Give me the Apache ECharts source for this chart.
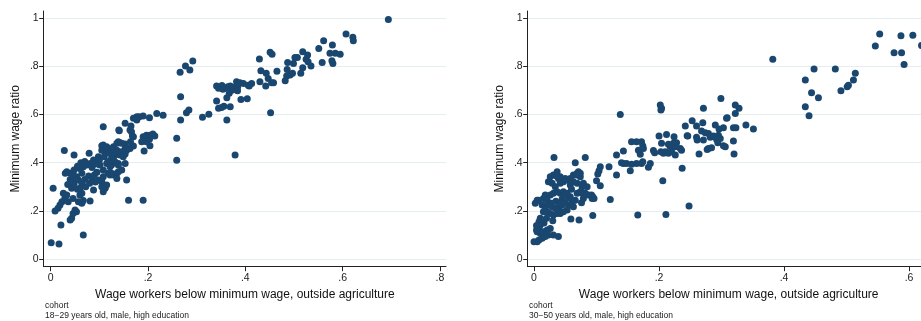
<!DOCTYPE html>
<html>
<head>
<meta charset="utf-8">
<script src="https://cdn.jsdelivr.net/npm/echarts@6/dist/echarts.min.js"></script>
<style>
html,body{margin:0;padding:0;background:#fff;}
#chart{width:921px;height:321px;}
</style>
</head>
<body>
<div id="chart"></div>
<script>
// ---------- data ----------
const yTicks = [0, 0.2, 0.4, 0.6, 0.8, 1];
const yTickLabels = ['0', '.2', '.4', '.6', '.8', '1'];
const leftXTicks = [0, 0.2, 0.4, 0.6, 0.8];
const leftXTickLabels = ['0', '.2', '.4', '.6', '.8'];
const rightXTicks = [0, 0.2, 0.4, 0.6];
const rightXTickLabels = ['0', '.2', '.4', '.6'];

const yTitle = 'Minimum wage ratio';
const xTitle = 'Wage workers below minimum wage, outside agriculture';
const noteHead = 'cohort';
const leftCohort = '18\u221229 years old, male, high education';
const rightCohort = '30\u221250 years old, male, high education';

// 18-29 years old cohort: [below-min-wage share, minimum wage ratio]
const youngCohort = [
[0.694,0.993],[0.607,0.933],[0.621,0.919],[0.622,0.905],[0.561,0.905],[0.579,0.887],[0.551,0.873],[0.518,0.859],
[0.574,0.853],[0.585,0.853],[0.595,0.849],[0.528,0.846],[0.502,0.836],[0.507,0.836],[0.451,0.857],[0.455,0.849],
[0.429,0.829],[0.525,0.828],[0.529,0.818],[0.487,0.815],[0.499,0.811],[0.558,0.815],[0.578,0.822],[0.580,0.811],
[0.535,0.800],[0.518,0.793],[0.486,0.786],[0.432,0.781],[0.443,0.770],[0.465,0.779],[0.497,0.770],[0.492,0.763],
[0.485,0.759],[0.514,0.770],[0.447,0.749],[0.454,0.731],[0.442,0.717],[0.430,0.735],[0.482,0.739],[0.458,0.731],
[0.341,0.717],[0.348,0.712],[0.354,0.704],[0.358,0.708],[0.364,0.714],[0.369,0.717],[0.375,0.712],[0.382,0.735],
[0.379,0.704],[0.384,0.712],[0.389,0.731],[0.396,0.728],[0.406,0.721],[0.413,0.728],[0.408,0.717],[0.367,0.687],
[0.384,0.698],[0.362,0.669],[0.391,0.662],[0.404,0.665],[0.341,0.655],[0.345,0.625],[0.351,0.629],[0.356,0.634],
[0.369,0.632],[0.362,0.577],[0.312,0.588],[0.325,0.601],[0.452,0.607],[0.379,0.432],[0.352,0.720],[0.345,0.708],
[0.372,0.700],[0.277,0.800],[0.286,0.784],[0.266,0.774],[0.292,0.821],[0.267,0.673],[0.284,0.618],[0.279,0.607],
[0.267,0.577],[0.259,0.501],[0.259,0.410],
[0.028,0.450],[0.048,0.432],[0.079,0.439],[0.108,0.549],[0.140,0.535],[0.153,0.563],[0.165,0.552],[0.170,0.584],
[0.177,0.590],[0.190,0.593],[0.203,0.586],[0.218,0.604],[0.231,0.596],[0.182,0.590],[0.168,0.510],[0.163,0.535],
[0.141,0.532],[0.166,0.528],[0.177,0.577],[0.190,0.507],[0.187,0.487],[0.197,0.514],[0.203,0.497],[0.210,0.519],
[0.214,0.510],[0.204,0.470],[0.192,0.448],[0.170,0.507],[0.164,0.487],[0.204,0.514],[0.197,0.487],[0.105,0.470],
[0.115,0.466],[0.129,0.466],[0.136,0.480],[0.142,0.483],[0.153,0.477],[0.132,0.445],[0.142,0.439],[0.153,0.436],
[0.163,0.459],[0.170,0.469],[0.146,0.480],[0.153,0.459],[0.156,0.452],[0.108,0.473],[0.105,0.452],[0.112,0.439],
[0.139,0.487],[0.136,0.452],[0.146,0.445],[0.160,0.459],[0.132,0.432],[0.142,0.432],[0.129,0.411],[0.125,0.390],
[0.139,0.397],[0.146,0.370],[0.136,0.356],[0.129,0.349],[0.118,0.356],[0.108,0.342],[0.105,0.321],[0.112,0.294],
[0.108,0.280],[0.156,0.328],[0.160,0.245],[0.190,0.245],[0.098,0.425],[0.088,0.411],[0.081,0.397],[0.074,0.390],
[0.067,0.383],[0.060,0.376],[0.064,0.356],[0.053,0.342],[0.057,0.328],[0.064,0.315],[0.101,0.390],[0.108,0.370],
[0.115,0.397],[0.125,0.418],[0.132,0.404],[0.122,0.383],[0.139,0.363],[0.153,0.397],[0.139,0.390],[0.149,0.425],
[0.033,0.363],[0.030,0.356],[0.040,0.356],[0.046,0.349],[0.043,0.294],[0.050,0.328],[0.060,0.294],[0.064,0.273],
[0.098,0.328],[0.105,0.300],[0.115,0.308],[0.122,0.349],[0.125,0.356],[0.136,0.335],[0.088,0.287],[0.005,0.294],
[0.026,0.273],[0.029,0.252],[0.023,0.238],[0.019,0.225],[0.015,0.211],[0.009,0.200],[0.033,0.266],[0.036,0.238],
[0.046,0.252],[0.060,0.266],[0.064,0.232],[0.067,0.243],[0.081,0.241],[0.057,0.238],[0.050,0.204],[0.053,0.197],
[0.046,0.190],[0.043,0.170],[0.040,0.163],[0.021,0.142],[0.067,0.101],[0.001,0.069],[0.017,0.063],
[0.070,0.405],[0.085,0.380],[0.092,0.395],[0.095,0.360],[0.078,0.345],[0.070,0.330],[0.085,0.335],[0.090,0.350],
[0.100,0.410],[0.110,0.425],[0.118,0.405],[0.120,0.440],[0.126,0.455],[0.118,0.460],[0.062,0.400],[0.055,0.385],
[0.048,0.370],[0.040,0.330],[0.035,0.310],[0.048,0.310],[0.055,0.290],[0.072,0.300],[0.080,0.315],[0.092,0.320]
];

// 30-50 years old cohort
const olderCohort = [
[0.553,0.933],[0.546,0.883],[0.587,0.926],[0.606,0.928],[0.576,0.855],[0.588,0.855],[0.592,0.807],[0.620,0.885],
[0.382,0.828],[0.434,0.742],[0.448,0.788],[0.444,0.690],[0.455,0.669],[0.434,0.632],[0.440,0.594],[0.482,0.788],
[0.491,0.698],[0.501,0.714],[0.503,0.721],[0.511,0.742],[0.514,0.770],
[0.138,0.600],[0.202,0.639],[0.204,0.625],[0.203,0.618],[0.299,0.666],[0.271,0.625],[0.322,0.639],[0.328,0.625],
[0.322,0.604],[0.339,0.556],[0.351,0.539],[0.308,0.584],[0.253,0.574],[0.242,0.552],[0.260,0.552],[0.270,0.565],
[0.290,0.556],[0.303,0.545],[0.296,0.539],[0.319,0.545],[0.323,0.545],[0.268,0.531],[0.246,0.510],[0.260,0.505],
[0.261,0.494],[0.279,0.521],[0.282,0.505],[0.287,0.510],[0.295,0.514],[0.292,0.497],[0.271,0.494],[0.319,0.490],
[0.294,0.483],[0.303,0.470],[0.306,0.466],[0.279,0.459],[0.284,0.462],[0.264,0.436],[0.320,0.436],[0.200,0.510],
[0.212,0.517],[0.224,0.507],[0.228,0.483],[0.226,0.466],[0.234,0.459],[0.236,0.452],[0.215,0.476],[0.218,0.466],
[0.210,0.445],[0.215,0.439],[0.220,0.445],[0.226,0.432],[0.203,0.445],[0.207,0.439],[0.191,0.450],[0.193,0.441],
[0.156,0.487],[0.164,0.487],[0.172,0.487],[0.167,0.452],[0.170,0.435],[0.174,0.470],[0.175,0.459],[0.143,0.448],
[0.132,0.432],[0.032,0.422],[0.082,0.422],[0.204,0.480],[0.223,0.480],[0.298,0.500],[0.274,0.524],[0.245,0.512],
[0.277,0.455],[0.309,0.586],
[0.066,0.400],[0.120,0.383],[0.106,0.383],[0.104,0.367],[0.102,0.353],[0.100,0.325],[0.106,0.305],[0.094,0.259],
[0.132,0.349],[0.143,0.397],[0.148,0.397],[0.154,0.367],[0.164,0.397],[0.172,0.397],[0.183,0.381],[0.186,0.397],
[0.206,0.325],[0.237,0.377],[0.166,0.183],[0.211,0.186],[0.248,0.221],[0.122,0.248],[0.094,0.181],[0.072,0.163],
[0.059,0.167],[0.078,0.310],[0.076,0.234],[0.092,0.266],[0.140,0.400],[0.156,0.394],[0.174,0.404],[0.096,0.252],
[0.037,0.363],[0.031,0.349],[0.026,0.342],[0.039,0.335],[0.042,0.342],[0.023,0.321],[0.029,0.315],[0.034,0.300],
[0.042,0.315],[0.047,0.321],[0.053,0.328],[0.058,0.335],[0.063,0.349],[0.069,0.356],[0.071,0.363],[0.074,0.342],
[0.063,0.321],[0.058,0.308],[0.069,0.315],[0.077,0.300],[0.079,0.315],[0.074,0.280],[0.069,0.273],[0.077,0.273],
[0.079,0.252],[0.082,0.273],[0.087,0.266],[0.093,0.252],[0.066,0.245],[0.058,0.259],[0.053,0.273],[0.047,0.280],
[0.042,0.273],[0.037,0.280],[0.031,0.273],[0.026,0.266],[0.018,0.266],[0.015,0.252],[0.021,0.245],[0.005,0.245],
[0.002,0.232],[0.013,0.225],[0.018,0.218],[0.023,0.225],[0.029,0.218],[0.034,0.211],[0.039,0.211],[0.045,0.225],
[0.050,0.232],[0.056,0.225],[0.061,0.238],[0.063,0.218],[0.053,0.204],[0.047,0.197],[0.042,0.190],[0.037,0.190],
[0.031,0.183],[0.026,0.190],[0.021,0.197],[0.015,0.197],[0.010,0.170],[0.008,0.156],[0.010,0.142],[0.008,0.128],
[0.005,0.114],[0.010,0.108],[0.015,0.114],[0.021,0.121],[0.026,0.128],[0.023,0.101],[0.018,0.094],[0.013,0.087],
[0.008,0.080],[0.005,0.073],[0.031,0.101],[0.039,0.094],[0.000,0.073],[0.004,0.121],[0.007,0.245],[0.036,0.345],
[0.050,0.335],[0.074,0.356],[0.068,0.349],[0.045,0.250],[0.035,0.240],[0.055,0.255],[0.028,0.232],[0.012,0.160],
[0.004,0.140],[0.016,0.150],[0.020,0.170],[0.030,0.160],[0.040,0.230],[0.048,0.262],[0.060,0.290],[0.085,0.300]
];

// ---------- chart ----------
const FONT = "'Liberation Sans', Arial, sans-serif";
const MARK = '#1a476f';
const AXIS = '#222';
const GRID = '#e4eef0';

function fmt(ticks, labels) {
  return function (v) {
    for (let i = 0; i < ticks.length; i++) {
      if (Math.abs(ticks[i] - v) < 1e-9) return labels[i];
    }
    return '';
  };
}

function xAxisCfg(gridIndex, min, max, ticks, labels) {
  return {
    type: 'value', gridIndex: gridIndex, min: min, max: max,
    name: xTitle, nameLocation: 'middle', nameGap: 19,
    nameTextStyle: {fontFamily: FONT, fontSize: 12, color: '#111'},
    axisLine: {show: true, onZero: false, lineStyle: {color: AXIS, width: 1}},
    axisTick: {show: true, length: 4.5, customValues: ticks, lineStyle: {color: AXIS}},
    axisLabel: {show: true, customValues: ticks, formatter: fmt(ticks, labels),
      margin: 6, fontFamily: FONT, fontSize: 10.5, color: '#222', hideOverlap: false},
    splitLine: {show: false}
  };
}

function yAxisCfg(gridIndex) {
  return {
    type: 'value', gridIndex: gridIndex, min: -0.0306, max: 1.028,
    name: yTitle, nameLocation: 'middle', nameGap: 22, nameRotate: 90,
    nameTextStyle: {fontFamily: FONT, fontSize: 12, color: '#111'},
    axisLine: {show: true, onZero: false, lineStyle: {color: AXIS, width: 1}},
    axisTick: {show: true, length: 4.5, customValues: yTicks, lineStyle: {color: AXIS}},
    axisLabel: {show: true, customValues: yTicks, formatter: fmt(yTicks, yTickLabels),
      margin: 5, fontFamily: FONT, fontSize: 10.5, color: '#222'},
    splitLine: {show: true, lineStyle: {color: GRID, width: 1}}
  };
}

const chart = echarts.init(document.getElementById('chart'), null, {renderer: 'canvas'});
chart.setOption({
  animation: false,
  backgroundColor: '#fff',
  grid: [
    {left: 43.7, top: 11, width: 402.3, height: 255.7, containLabel: false, outerBoundsMode: 'none'},
    {left: 527.7, top: 11, width: 402, height: 255.7, containLabel: false, outerBoundsMode: 'none'}
  ],
  xAxis: [
    xAxisCfg(0, -0.0144, 0.8125, leftXTicks, leftXTickLabels),
    xAxisCfg(1, -0.0101, 0.633, rightXTicks, rightXTickLabels)
  ],
  yAxis: [yAxisCfg(0), yAxisCfg(1)],
  series: [
    {type: 'scatter', xAxisIndex: 0, yAxisIndex: 0, data: youngCohort,
     symbol: 'circle', symbolSize: 7, itemStyle: {color: MARK, opacity: 1}},
    {type: 'scatter', xAxisIndex: 1, yAxisIndex: 1, data: olderCohort,
     symbol: 'circle', symbolSize: 7, itemStyle: {color: MARK, opacity: 1}}
  ],
  graphic: [
    {type: 'text', left: 45, top: 301, style: {text: noteHead + '\n' + leftCohort,
      font: "8.5px 'Liberation Sans', Arial, sans-serif", fill: '#222', lineHeight: 9.5}},
    {type: 'text', left: 529, top: 301, style: {text: noteHead + '\n' + rightCohort,
      font: "8.5px 'Liberation Sans', Arial, sans-serif", fill: '#222', lineHeight: 9.5}}
  ]
});
</script>
</body>
</html>
